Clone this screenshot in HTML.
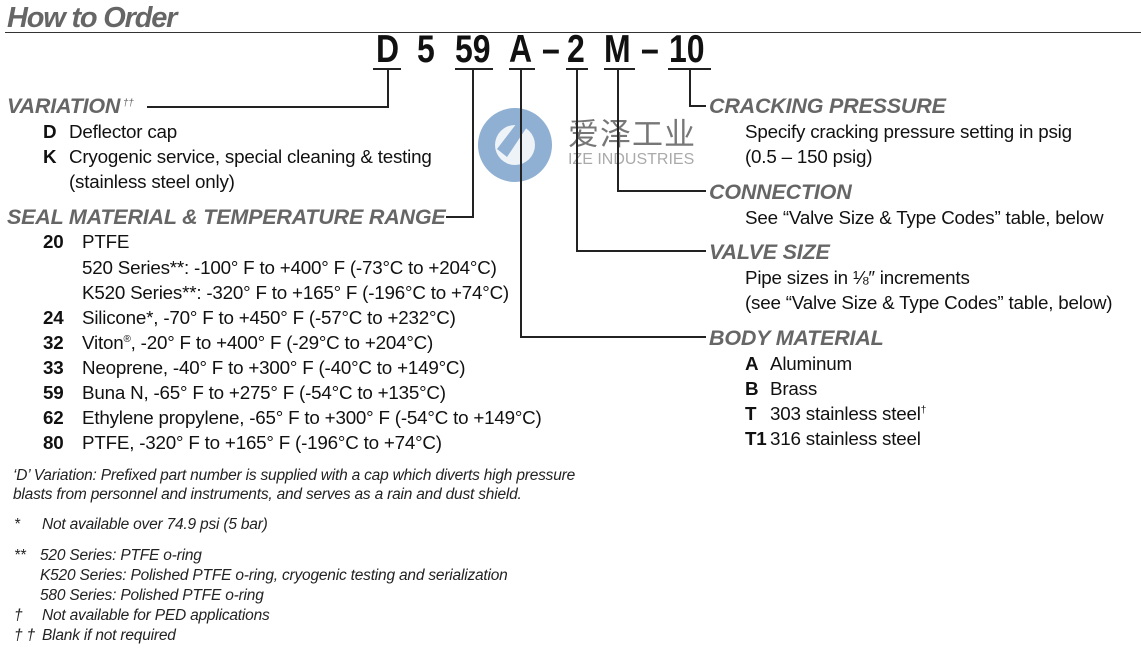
<!DOCTYPE html>
<html><head><meta charset="utf-8"><style>
body{margin:0;width:1141px;height:656px;background:#fff;position:relative;overflow:hidden;font-family:"Liberation Sans",sans-serif;color:#111}
.t{position:absolute;white-space:nowrap;line-height:24px;font-size:18.8px;letter-spacing:-0.2px}
.h{position:absolute;white-space:nowrap;line-height:24px;font-size:21.5px;font-weight:bold;font-style:italic;color:#666;letter-spacing:-0.2px}
.b{font-weight:bold}
.s{position:relative;top:-7px;font-size:10px}
.f{position:absolute;white-space:nowrap;line-height:20px;font-size:15.5px;font-style:italic;color:#222;letter-spacing:-0.2px}
.c{position:absolute;top:30px;font-size:39px;font-weight:bold;line-height:40px;color:#111;transform:scaleX(0.82);transform-origin:left top}
.l{position:absolute;background:#222}
</style></head><body>
<div style="position:absolute;left:7px;top:2px;font-size:29px;line-height:32px;font-weight:bold;font-style:italic;color:#666;letter-spacing:-1.2px">How to Order</div>
<div class="l" style="left:5px;top:32px;width:1136px;height:1px;background:#333"></div>

<div class="c" style="left:376px">D</div>
<div class="c" style="left:417px">5</div>
<div class="c" style="left:455px">59</div>
<div class="c" style="left:509px">A</div>
<div class="c" style="left:542px">–</div>
<div class="c" style="left:567px">2</div>
<div class="c" style="left:604px">M</div>
<div class="c" style="left:641px">–</div>
<div class="c" style="left:669px">10</div>
<div class="l" style="left:373px;top:68px;width:28px;height:2px"></div>
<div class="l" style="left:455px;top:68px;width:38px;height:2px"></div>
<div class="l" style="left:509px;top:68px;width:26px;height:2px"></div>
<div class="l" style="left:566px;top:68px;width:22px;height:2px"></div>
<div class="l" style="left:604px;top:68px;width:31px;height:2px"></div>
<div class="l" style="left:668px;top:68px;width:43px;height:2px"></div>

<svg style="position:absolute;left:475px;top:105px" width="82" height="80" viewBox="0 0 82 80">
<circle cx="40" cy="40" r="37" fill="#8fb0d2"/>
<circle cx="40" cy="40" r="20" fill="#fff" opacity="0.85"/>
<path d="M22 44 L45 14 L52 22 L32 52 Z" fill="#8fb0d2"/>
</svg>
<div style="position:absolute;left:568px;top:114px;font-size:31px;color:#777;font-family:'Noto Sans CJK SC',sans-serif;line-height:36px;letter-spacing:1px">爱泽工业</div>
<div style="position:absolute;left:568px;top:150px;font-size:16px;color:#aaa;line-height:20px">IZE INDUSTRIES</div>

<div class="l" style="left:387px;top:69px;width:2px;height:38px"></div>
<div class="l" style="left:147px;top:106px;width:242px;height:2px"></div>
<div class="l" style="left:472px;top:69px;width:2px;height:149px"></div>
<div class="l" style="left:446px;top:216px;width:28px;height:2px"></div>
<div class="l" style="left:520px;top:69px;width:2px;height:269px"></div>
<div class="l" style="left:520px;top:336px;width:186px;height:2px"></div>
<div class="l" style="left:576px;top:69px;width:2px;height:182px"></div>
<div class="l" style="left:576px;top:250px;width:130px;height:2px"></div>
<div class="l" style="left:617px;top:69px;width:2px;height:123px"></div>
<div class="l" style="left:617px;top:190px;width:89px;height:2px"></div>
<div class="l" style="left:689px;top:69px;width:2px;height:37px"></div>
<div class="l" style="left:689px;top:105px;width:17px;height:2px"></div>

<div class="h" style="left:7px;top:94px">VARIATION<span class="s" style="font-weight:normal"> ††</span></div>
<div class="t b" style="left:43px;top:120px">D</div><div class="t" style="left:69px;top:120px">Deflector cap</div>
<div class="t b" style="left:43px;top:145px">K</div><div class="t" style="left:69px;top:145px">Cryogenic service, special cleaning &amp; testing</div>
<div class="t" style="left:69px;top:170px">(stainless steel only)</div>
<div class="h" style="left:7px;top:205px">SEAL MATERIAL &amp; TEMPERATURE RANGE</div>
<div class="t b" style="left:43px;top:230px">20</div><div class="t" style="left:82px;top:230px">PTFE</div>
<div class="t" style="left:82px;top:256px">520 Series**: -100° F to +400° F (-73°C to +204°C)</div>
<div class="t" style="left:82px;top:281px">K520 Series**: -320° F to +165° F (-196°C to +74°C)</div>
<div class="t b" style="left:43px;top:306px">24</div><div class="t" style="left:82px;top:306px">Silicone*, -70° F to +450° F (-57°C to +232°C)</div>
<div class="t b" style="left:43px;top:331px">32</div><div class="t" style="left:82px;top:331px">Viton<span class="s">®</span>, -20° F to +400° F (-29°C to +204°C)</div>
<div class="t b" style="left:43px;top:356px">33</div><div class="t" style="left:82px;top:356px">Neoprene, -40° F to +300° F (-40°C to +149°C)</div>
<div class="t b" style="left:43px;top:381px">59</div><div class="t" style="left:82px;top:381px">Buna N, -65° F to +275° F (-54°C to +135°C)</div>
<div class="t b" style="left:43px;top:406px">62</div><div class="t" style="left:82px;top:406px">Ethylene propylene, -65° F to +300° F (-54°C to +149°C)</div>
<div class="t b" style="left:43px;top:431px">80</div><div class="t" style="left:82px;top:431px">PTFE, -320° F to +165° F (-196°C to +74°C)</div>

<div class="h" style="left:709px;top:94px">CRACKING PRESSURE</div>
<div class="t" style="left:745px;top:120px">Specify cracking pressure setting in psig</div>
<div class="t" style="left:745px;top:145px">(0.5 – 150 psig)</div>
<div class="h" style="left:709px;top:180px">CONNECTION</div>
<div class="t" style="left:745px;top:206px">See “Valve Size &amp; Type Codes” table, below</div>
<div class="h" style="left:709px;top:240px">VALVE SIZE</div>
<div class="t" style="left:745px;top:266px">Pipe sizes in ⅛″ increments</div>
<div class="t" style="left:745px;top:291px">(see “Valve Size &amp; Type Codes” table, below)</div>
<div class="h" style="left:709px;top:326px">BODY MATERIAL</div>
<div class="t b" style="left:745px;top:352px">A</div><div class="t" style="left:770px;top:352px">Aluminum</div>
<div class="t b" style="left:745px;top:377px">B</div><div class="t" style="left:770px;top:377px">Brass</div>
<div class="t b" style="left:745px;top:402px">T</div><div class="t" style="left:770px;top:402px">303 stainless steel<span class="s">†</span></div>
<div class="t b" style="left:745px;top:427px">T1</div><div class="t" style="left:770px;top:427px">316 stainless steel</div>

<div class="f" style="left:13px;top:466px">‘D’ Variation: Prefixed part number is supplied with a cap which diverts high pressure</div>
<div class="f" style="left:13px;top:485px">blasts from personnel and instruments, and serves as a rain and dust shield.</div>
<div class="f" style="left:14px;top:515px">*</div><div class="f" style="left:42px;top:515px">Not available over 74.9 psi (5 bar)</div>
<div class="f" style="left:14px;top:546px">**</div><div class="f" style="left:40px;top:546px">520 Series: PTFE o-ring</div>
<div class="f" style="left:40px;top:566px">K520 Series: Polished PTFE o-ring, cryogenic testing and serialization</div>
<div class="f" style="left:40px;top:586px">580 Series: Polished PTFE o-ring</div>
<div class="f" style="left:14px;top:606px">†</div><div class="f" style="left:42px;top:606px">Not available for PED applications</div>
<div class="f" style="left:14px;top:626px">† †</div><div class="f" style="left:42px;top:626px">Blank if not required</div>
</body></html>
